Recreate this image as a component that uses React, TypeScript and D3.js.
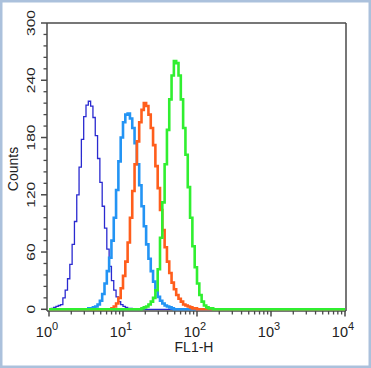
import React from "react";
import * as d3 from "d3";

// histogram channels: 128 channels over 4 log decades (32 per decade)
const channelCount = 128;
const channelsPerDecade = 32;

// counts per channel, each series starts at its own channel index
const navyStart = 0;
const navyCounts = [0, 1, 2, 3, 4, 5, 12, 20, 32, 47, 68, 92, 120, 149, 178, 202, 214, 218, 213, 201, 182, 158, 133, 108, 85, 63, 45, 30, 20, 13, 8, 5, 3, 2, 1, 1];

const skyStart = 17;
const skyCounts = [1, 1, 2, 3, 5, 9, 16, 27, 40, 54, 72, 96, 125, 155, 180, 196, 204, 205, 200, 190, 174, 152, 130, 108, 87, 68, 53, 40, 29, 20, 13, 9, 6, 4, 3, 2, 1];

const orangeStart = 27;
const orangeCounts = [1, 3, 6, 12, 22, 35, 50, 70, 96, 124, 152, 176, 196, 209, 216, 213, 204, 190, 172, 150, 127, 104, 83, 65, 50, 38, 28, 21, 15, 11, 8, 5, 4, 3, 2, 1, 1];

const greenStart = 40;
const greenCounts = [1, 2, 3, 5, 8, 12, 20, 42, 75, 112, 152, 188, 220, 245, 260, 258, 245, 220, 190, 162, 128, 96, 66, 44, 27, 15, 8, 4, 2, 1, 1];

const yTicks = [0, 60, 120, 180, 240, 300];
const yMinorStep = 12;
const xDecades = [0, 1, 2, 3, 4];

const series = [
  { start: navyStart, counts: navyCounts, color: "#2a2ad0", width: 1.3 },
  { start: skyStart, counts: skyCounts, color: "#2394f4", width: 2.6 },
  { start: orangeStart, counts: orangeCounts, color: "#ff5e1c", width: 2.6 },
  { start: greenStart, counts: greenCounts, color: "#30ef30", width: 2.6 },
];

const font = "'Liberation Sans', Arial, sans-serif";

function expand(start: number, counts: number[]) {
  const full = new Array(channelCount).fill(0);
  counts.forEach((c, i) => (full[start + i] = c));
  return full;
}

export default function App() {
  const width = 371;
  const height = 368;

  const xs = d3.scaleLog().domain([1, 10000]).range([49, 345]);
  const ys = d3.scaleLinear().domain([0, 300]).range([309.3, 23]);

  const edge = (i: number) => Math.pow(10, i / channelsPerDecade);

  const line = d3
    .line<[number, number]>()
    .x((d) => xs(d[0]))
    .y((d) => ys(d[1]))
    .curve(d3.curveStepAfter);

  const paths = series.map((s) => {
    const full = expand(s.start, s.counts);
    const pts: [number, number][] = full.map((c, i) => [edge(i), c]);
    pts.push([edge(channelCount), full[channelCount - 1]]);
    return { d: line(pts) as string, color: s.color, width: s.width };
  });

  const axisColor = "#4a4a4a";
  const left = 47;
  const right = 346;
  const top = 23;
  const bottom = 311;

  const minorY = d3.range(0, 301, yMinorStep).filter((v) => v % 60 !== 0);
  const minorX: number[] = [];
  for (let dec = 0; dec < 4; dec++) {
    for (let m = 2; m <= 9; m++) minorX.push(m * Math.pow(10, dec));
  }

  return (
    <svg
      width={width}
      height={height}
      style={{ position: "absolute", left: 0, top: 0, display: "block" }}
    >
      <rect x={1.25} y={1.25} width={width - 2.5} height={height - 2.5} fill="#fff" stroke="#abc1dc" strokeWidth={2.5} />

      {/* frame */}
      <line x1={left} x2={right} y1={top} y2={top} stroke={axisColor} strokeWidth={1.5} />
      <line x1={right} x2={right} y1={top} y2={bottom} stroke={axisColor} strokeWidth={1.5} />
      <line x1={left} x2={left} y1={top} y2={bottom} stroke={axisColor} strokeWidth={1.5} />
      <line x1={left} x2={right} y1={bottom} y2={bottom} stroke={axisColor} strokeWidth={1.5} />

      {paths.map((p, i) => (
        <path key={i} d={p.d} fill="none" stroke={p.color} strokeWidth={p.width} strokeLinejoin="miter" />
      ))}

      {/* y ticks */}
      {yTicks.map((v) => (
        <g key={"y" + v}>
          <line x1={41} x2={left} y1={ys(v)} y2={ys(v)} stroke={axisColor} strokeWidth={1.5} />
          <text
            transform={`translate(34.5,${ys(v)}) rotate(-90) scale(1.35,1)`}
            textAnchor="middle"
            fontSize={11.5}
            fontFamily={font}
            fill="#222"
          >
            {v}
          </text>
        </g>
      ))}
      {minorY.map((v) => (
        <line key={"ym" + v} x1={43.5} x2={left} y1={ys(v)} y2={ys(v)} stroke={axisColor} strokeWidth={1.3} />
      ))}

      {/* x ticks */}
      {xDecades.map((e) => {
        const v = Math.pow(10, e);
        return (
          <g key={"x" + e}>
            <line x1={xs(v)} x2={xs(v)} y1={bottom} y2={316.5} stroke={axisColor} strokeWidth={1.5} />
            <text x={xs(v) - 2} y={337} textAnchor="middle" fontSize={14.5} fontFamily={font} fill="#222">
              <tspan>10</tspan>
              <tspan fontSize={11} dy={-7}>{e}</tspan>
            </text>
          </g>
        );
      })}
      {minorX.map((v) => (
        <line key={"xm" + v} x1={xs(v)} x2={xs(v)} y1={bottom} y2={314.5} stroke={axisColor} strokeWidth={1.3} />
      ))}

      <text x={194} y={352} textAnchor="middle" fontSize={14} fontFamily={font} fill="#222">
        FL1-H
      </text>
      <text
        transform="translate(18,169) rotate(-90)"
        textAnchor="middle"
        fontSize={14}
        fontFamily={font}
        fill="#222"
      >
        Counts
      </text>
    </svg>
  );
}
